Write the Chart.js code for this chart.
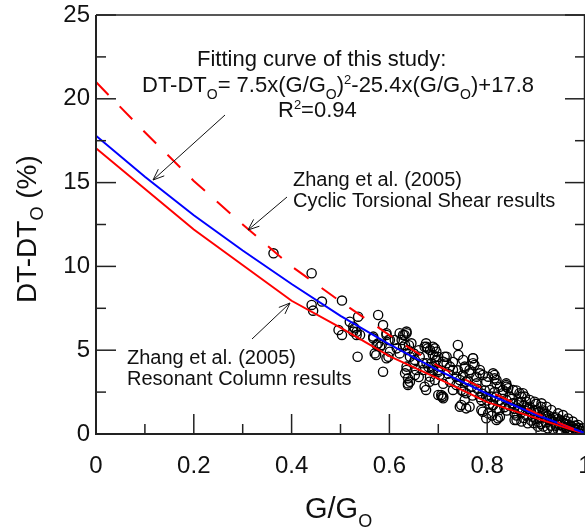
<!DOCTYPE html>
<html><head><meta charset="utf-8">
<script src="https://cdn.jsdelivr.net/npm/chart.js@4.4.1/dist/chart.umd.min.js"></script>
<style>
html,body{margin:0;padding:0;background:#fff;overflow:hidden;width:585px;height:529px}
#wrap{width:585px;height:529px;position:relative;overflow:hidden}
canvas{display:block}
</style></head>
<body><div id="wrap"><canvas id="c" width="600" height="529"></canvas></div>
<script>
const xTickLabels = ['0','0.2','0.4','0.6','0.8','1'];
const yTickLabels = ['0','5','10','15','20','25'];

// Fitting curve of this study (blue)
const fitX = [0,0.1,0.2,0.3,0.4,0.5,0.6,0.7,0.8,0.9,1.0];
const fitY = [17.8,15.35,13.05,10.95,8.95,7.05,5.35,3.8,2.4,1.15,0.05];
// Zhang et al. (2005) Resonant Column (red solid)
const rcX = [0,0.2,0.4,0.5,0.6,0.7,0.8,0.9,1.0];
const rcY = [17.05,12.2,7.95,6.35,4.65,3.3,1.9,0.95,0];
// Zhang et al. (2005) Cyclic Torsional Shear (red dashed)
const ctsX = [0,0.1,0.2,0.3,0.4,0.5,0.6,0.7,0.8,0.9,1.0];
const ctsY = [21.0,18.0,15.1,12.5,10.0,7.9,5.9,4.05,2.6,1.25,0];

// Measured data (open circles)
const dataX = [0.363,0.441,0.441,0.444,0.462,0.503,0.496,0.503,0.519,0.526,0.536,0.540,0.533,0.535,0.577,0.567,0.574,0.581,0.587,0.594,0.598,0.587,0.573,0.601,0.611,0.621,0.631,0.635,0.628,0.638,0.645,0.615,0.621,0.635,0.638,0.638,0.652,0.652,0.662,0.669,0.672,0.678,0.675,0.693,0.675,0.682,0.689,0.696,0.700,0.686,0.703,0.706,0.710,0.717,0.717,0.724,0.730,0.737,0.724,0.741,0.747,0.754,0.757,0.747,0.764,0.754,0.764,0.771,0.774,0.757,0.778,0.768,0.785,0.791,0.798,0.802,0.805,0.812,0.815,0.819,0.798,0.788,0.802,0.812,0.822,0.825,0.819,0.832,0.839,0.846,0.853,0.856,0.860,0.866,0.870,0.873,0.853,0.880,0.887,0.893,0.900,0.910,0.914,0.921,0.928,0.934,0.941,0.948,0.955,0.961,0.968,0.975,0.982,0.989,0.996,
0.529,0.526,0.533,0.567,0.577,0.584,0.594,0.598,0.628,0.635,0.625,0.632,0.601,0.594,0.570,0.642,0.649,0.655,0.635,0.632,0.642,0.638,0.672,0.676,0.683,0.689,0.700,0.676,0.669,0.693,0.683,0.700,
0.689,0.696,0.693,0.713,0.710,0.740,0.751,0.754,0.764,0.771,0.771,0.778,0.785,0.744,0.737,0.730,0.751,0.707,0.710,0.744,0.757,0.788,0.791,0.798,0.812,0.815,0.819,0.826,0.832,0.839,0.809,0.826,0.819,0.839,
0.839,0.843,0.866,0.877,0.887,0.897,0.911,0.921,0.931,0.945,0.955,0.965,0.975,0.986,0.996,0.856,0.870,0.883,0.904,0.924,0.945,0.965,0.982,0.853,0.863,
0.86,0.87,0.88,0.89,0.90,0.91,0.92,0.93,0.94,0.95,0.96,0.97,0.98,0.99,0.95,0.97,0.93,0.91,0.89,0.88,0.90,0.92,0.94,0.96,0.98,0.84,0.85,0.86,0.87,0.83,0.82,0.81,0.80,0.79,0.78,0.77,0.76,0.75,0.74,0.73,0.72,0.71,0.70,0.69,0.68,0.66,0.65,0.64,0.66,
0.845,0.855,0.865,0.875,0.885,0.895,0.905,0.915,0.925,0.935,0.945,0.955,0.965,0.975,0.985,0.992,0.905,0.915,0.935,0.952,0.972,0.988,0.875,0.895,0.835,0.825,0.815,0.805,0.795,0.785];
const dataY = [10.78,9.59,7.70,7.36,7.90,7.96,6.21,5.91,6.70,6.40,7.00,5.91,6.10,4.61,7.10,5.71,5.31,5.21,6.50,5.91,4.61,3.72,4.71,5.61,5.61,6.01,5.91,6.11,5.21,5.01,5.41,5.11,4.81,3.82,3.32,3.02,3.52,4.42,4.61,4.22,5.21,5.11,5.41,5.11,2.63,3.12,4.02,4.42,3.72,4.22,3.52,2.33,2.23,4.61,4.22,4.02,3.82,3.42,3.12,4.72,1.73,2.03,2.43,2.63,1.63,3.92,3.62,4.52,4.12,3.12,3.02,2.82,3.82,3.52,3.12,3.42,2.63,3.62,3.32,3.02,2.23,1.43,1.23,1.73,0.94,1.43,2.23,2.43,2.82,2.23,1.83,1.23,0.84,1.43,2.23,2.43,2.63,1.93,1.63,1.03,1.43,1.63,1.23,1.03,0.84,0.74,0.64,0.54,0.44,0.34,0.24,0.14,0.08,0.02,0.00,
6.31,6.11,5.91,5.81,5.41,5.31,6.01,5.61,5.91,6.01,5.61,5.31,4.91,4.52,4.81,4.61,4.22,3.82,4.02,3.62,3.12,2.92,2.82,5.21,5.01,4.72,3.82,4.22,3.82,3.22,3.42,2.33,
5.21,4.91,4.61,4.61,4.31,5.31,4.42,4.02,3.82,4.52,4.22,3.42,3.62,3.22,2.92,2.63,2.53,2.23,2.13,1.63,1.53,2.03,1.33,0.94,1.73,3.52,3.22,2.82,2.63,3.02,2.23,1.03,0.84,2.03,
2.92,2.73,2.43,2.23,2.03,1.93,1.83,1.63,1.43,1.23,1.13,0.93,0.74,0.54,0.34,0.84,0.74,0.64,0.44,0.34,0.24,0.14,0.04,1.83,1.53,
1.1,1.3,1.1,1.3,0.9,1.0,0.7,0.9,0.5,0.8,0.6,0.5,0.3,0.2,0.2,0.3,0.5,0.6,0.8,1.6,1.8,1.2,1.0,0.8,0.5,1.4,2.1,2.6,1.9,1.9,1.5,1.1,2.0,2.4,2.7,2.3,3.2,3.5,3.8,4.3,3.6,3.0,4.6,3.8,4.0,3.4,4.8,5.3,5.0,
1.7,1.5,1.9,1.7,1.5,1.4,1.3,1.4,1.1,1.0,0.9,0.7,0.55,0.4,0.25,0.15,0.7,0.45,0.3,0.1,0.05,0.35,0.95,0.65,1.6,2.0,2.5,1.8,2.6,2.2];

const FONT = '"Liberation Sans", Arial, sans-serif';
const pts = (xs, ys) => xs.map((x, i) => ({x, y: ys[i]}));

function richText(ctx, x, y, segs, size) {
  let cx = x;
  for (const s of segs) {
    let fs = size, dy = 0;
    if (s.k === 'sub') { fs = Math.round(size * 0.64); dy = size * 0.3; }
    if (s.k === 'sup') { fs = Math.round(size * 0.6); dy = -size * 0.36; }
    ctx.font = fs + 'px ' + FONT;
    ctx.fillText(s.t, cx, y + dy);
    cx += ctx.measureText(s.t).width;
  }
}
function arrow(ctx, x1, y1, x2, y2) {
  ctx.beginPath(); ctx.moveTo(x1, y1); ctx.lineTo(x2, y2); ctx.stroke();
  const a = Math.atan2(y1 - y2, x1 - x2), L = 12, h = 0.38;
  ctx.beginPath();
  ctx.moveTo(x2 + L * Math.cos(a + h), y2 + L * Math.sin(a + h));
  ctx.lineTo(x2, y2);
  ctx.lineTo(x2 + L * Math.cos(a - h), y2 + L * Math.sin(a - h));
  ctx.stroke();
}

const decor = {
  id: 'decor',
  afterDraw(chart) {
    const ctx = chart.ctx, a = chart.chartArea, xs = chart.scales.x, ys = chart.scales.y;
    ctx.save();
    ctx.strokeStyle = '#222';
    ctx.lineWidth = 1.5;
    ctx.beginPath(); ctx.moveTo(a.left, a.top); ctx.lineTo(a.right - 0.5, a.top); ctx.lineTo(a.right - 0.5, a.bottom); ctx.stroke();
    ctx.lineWidth = 2;
    ctx.beginPath(); ctx.moveTo(a.left, a.top); ctx.lineTo(a.left, a.bottom); ctx.lineTo(a.right, a.bottom); ctx.stroke();
    ctx.lineWidth = 1.5;
    for (let i = 0; i <= 10; i++) {
      const px = xs.getPixelForValue(i / 10), len = i % 2 === 0 ? 20 : 10;
      ctx.beginPath(); ctx.moveTo(px, a.bottom); ctx.lineTo(px, a.bottom - len); ctx.stroke();
    }
    for (let i = 0; i <= 10; i++) {
      const py = ys.getPixelForValue(i * 2.5), len = i % 2 === 0 ? 20 : 10;
      ctx.beginPath(); ctx.moveTo(a.left, py); ctx.lineTo(a.left + len, py); ctx.stroke();
      ctx.beginPath(); ctx.moveTo(a.right, py); ctx.lineTo(a.right - len, py); ctx.stroke();
    }
    ctx.fillStyle = '#111';
    ctx.textBaseline = 'alphabetic'; ctx.textAlign = 'left';
    ctx.font = '29px ' + FONT;
    ctx.fillText('G/G', 305, 518);
    let w = ctx.measureText('G/G').width;
    ctx.font = '18px ' + FONT;
    ctx.fillText('O', 305 + w, 527);
    ctx.save();
    ctx.translate(36, 303); ctx.rotate(-Math.PI / 2);
    ctx.font = '28px ' + FONT;
    ctx.fillText('DT-DT', 0, 0);
    w = ctx.measureText('DT-DT').width;
    ctx.font = '18px ' + FONT;
    ctx.fillText('O', w, 7);
    const w2 = w + ctx.measureText('O').width;
    ctx.font = '28px ' + FONT;
    ctx.fillText(' (%)', w2, 0);
    ctx.restore();
    ctx.font = '22px ' + FONT;
    ctx.fillText('Fitting curve of this study:', 197, 66);
    richText(ctx, 142, 92, [
      {t: 'DT-DT'}, {t: 'O', k: 'sub'}, {t: '= 7.5x(G/G'}, {t: 'O', k: 'sub'}, {t: ')'}, {t: '2', k: 'sup'},
      {t: '-25.4x(G/G'}, {t: 'O', k: 'sub'}, {t: ')+17.8'}], 22);
    richText(ctx, 278, 117, [{t: 'R'}, {t: '2', k: 'sup'}, {t: '=0.94'}], 22);
    ctx.font = '20px ' + FONT;
    ctx.fillText('Zhang et al. (2005)', 293, 186);
    ctx.fillText('Cyclic Torsional Shear results', 293, 207);
    ctx.fillText('Zhang et al. (2005)', 127, 364);
    ctx.fillText('Resonant Column results', 127, 385);
    ctx.strokeStyle = '#111'; ctx.lineWidth = 1;
    arrow(ctx, 225, 115, 153, 180);
    arrow(ctx, 287, 197, 248, 230);
    arrow(ctx, 252, 339, 290, 303);
    ctx.restore();
  }
};

function zeroPad(s) { s.paddingTop = 0; s.paddingBottom = 0; s.paddingLeft = 0; s.paddingRight = 0; }

new Chart(document.getElementById('c'), {
  type: 'scatter',
  data: {
    datasets: [
      {label: 'CTS', data: pts(ctsX, ctsY), showLine: true, borderColor: '#ff0000', borderWidth: 2, borderDash: [18, 16], pointRadius: 0, fill: false, order: 1},
      {label: 'Fit', data: pts(fitX, fitY), showLine: true, borderColor: '#0000ff', borderWidth: 2, pointRadius: 0, fill: false, order: 2},
      {label: 'RC', data: pts(rcX, rcY), showLine: true, borderColor: '#ff0000', borderWidth: 2, pointRadius: 0, fill: false, order: 3},
      {label: 'Data', data: pts(dataX, dataY), showLine: false, pointRadius: 4.6, pointBorderWidth: 1.35, pointBorderColor: '#000', pointBackgroundColor: 'rgba(0,0,0,0)', order: 10}
    ]
  },
  options: {
    responsive: false,
    animation: false,
    devicePixelRatio: 1,
    layout: {padding: {top: 15, right: 15, left: 0, bottom: 0}},
    plugins: {legend: {display: false}, tooltip: {enabled: false}},
    scales: {
      x: {
        type: 'linear', min: 0, max: 1,
        grid: {display: false, drawTicks: false}, border: {display: false},
        ticks: {stepSize: 0.2, padding: 18, color: '#111', font: {size: 24, family: FONT}, maxRotation: 0,
          callback: (v, i) => xTickLabels[i]},
        afterFit: s => { s.height = 95; zeroPad(s); }
      },
      y: {
        type: 'linear', min: 0, max: 25,
        grid: {display: false, drawTicks: false}, border: {display: false},
        ticks: {stepSize: 5, padding: 6, color: '#111', font: {size: 24, family: FONT},
          callback: (v, i) => yTickLabels[i]},
        afterFit: s => { s.width = 96; zeroPad(s); }
      }
    }
  },
  plugins: [decor]
});
</script>
</body></html>
